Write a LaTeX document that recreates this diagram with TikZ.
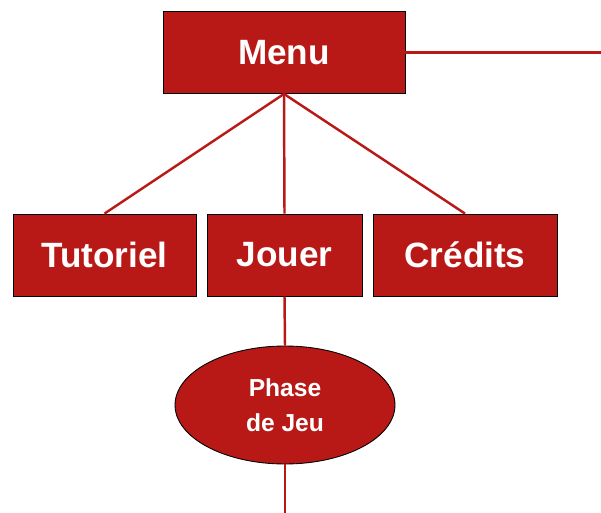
\documentclass[tikz,border=0pt]{standalone}
\usepackage{fontspec}
\setmainfont{Liberation Sans}
\usetikzlibrary{shapes.geometric}
\definecolor{rouge}{HTML}{B91916}
\tikzset{
 boite/.style={draw=black,line width=0.5pt,fill=rouge,text=white,font=\bfseries\fontsize{20}{24}\selectfont,minimum height=1.64cm,inner sep=0pt},
 bulle/.style={ellipse,draw=black,line width=0.5pt,fill=rouge,text=white,font=\bfseries\fontsize{14}{20}\selectfont,align=center,minimum width=4.4cm,minimum height=2.36cm,inner sep=0pt},
 lien/.style={rouge,line width=1.4pt},
}
\begin{document}
\begin{tikzpicture}[x=0.02cm,y=-0.02cm]
\useasboundingbox (0,0) rectangle (601,513);
% menu principal
\node[boite,minimum width=4.84cm] (menu) at (284,52.5) {Menu};
% sous-menus
\node[boite,minimum width=3.66cm] (tuto) at (104.5,255) {Tutoriel};
\node[boite,minimum width=3.1cm] (jouer) at (284.5,255) {Jouer};
\node[boite,minimum width=3.68cm] (credits) at (465,255) {Crédits};
\node[bulle] (jeu) at (285,405) {Phase\\de Jeu};
\coordinate (droite) at (601,0);
\coordinate (bas) at (285,513);
% liens
\draw[lien] (menu.east) -- (menu.east -| droite);
\draw[lien] (menu.south) -- (tuto.north);
\draw[lien] (menu.south) -- (jouer.north);
\draw[lien] (menu.south) -- (credits.north);
\draw[lien] (jouer.south) -- (jeu.north);
\draw[lien] (jeu.south) -- (bas);
\end{tikzpicture}
\end{document}
